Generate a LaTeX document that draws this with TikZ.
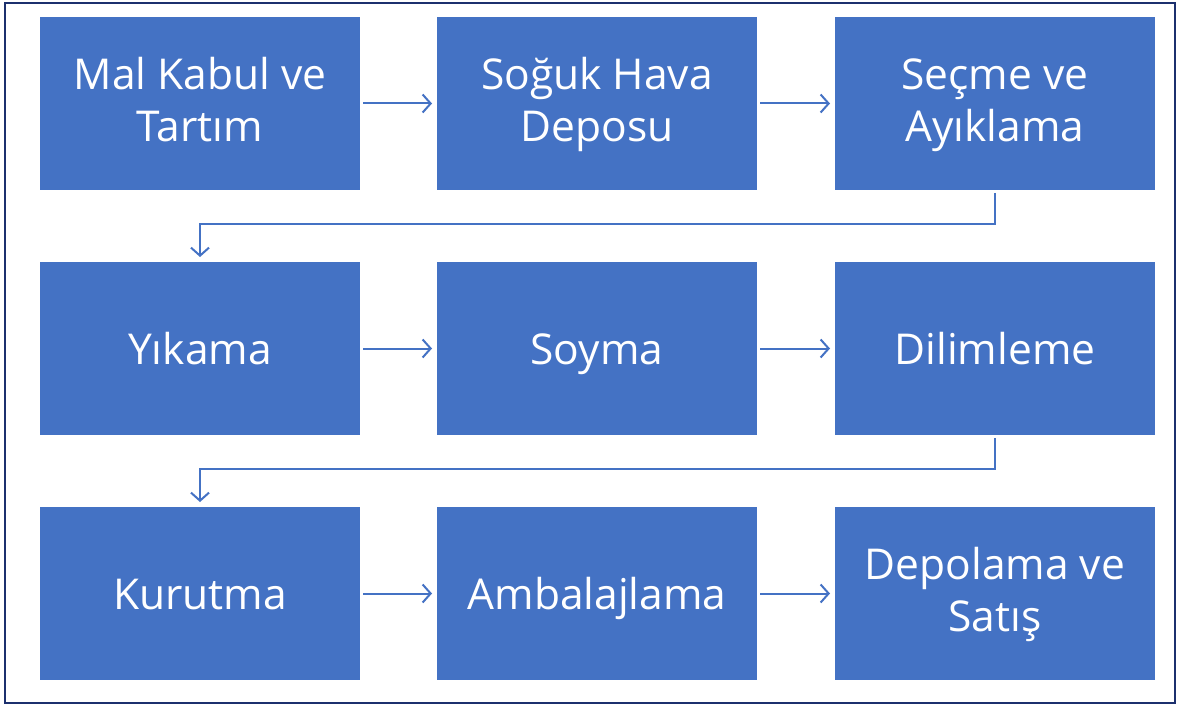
\documentclass[tikz,border=0pt]{standalone}
\usepackage{fontspec}
\setmainfont{Open Sans}
\usetikzlibrary{positioning,arrows.meta}
\definecolor{boxblue}{RGB}{68,114,196}
\definecolor{framenavy}{RGB}{28,48,110}
\newcommand{\twolines}[2]{\begin{tabular}{@{}c@{}}\rule{0pt}{40.4pt}#1\\#2\end{tabular}}
\begin{document}
\begin{tikzpicture}[x=1pt, y=-1pt,
        stepbox/.style={draw=none, fill=boxblue, text=white, minimum width=320pt, minimum height=173pt,
            inner sep=0pt, outer sep=0pt, align=center, font=\fontsize{42.5}{52}\selectfont,
            execute at begin node={\rule{0pt}{43pt}}, execute at end node={\rule[-12pt]{0pt}{12pt}}},
        twoline/.style={stepbox, execute at begin node={}, execute at end node={}},
        flow/.style={draw=boxblue, line width=2pt, -{Straight Barb[length=8pt, width=18pt, line width=2pt]},
            shorten <=3pt, shorten >=5pt}]
        \useasboundingbox (0,0) rectangle (1179,706);
        % Frame
        \draw[framenavy, line width=2pt] (5,3) rectangle (1175,703);

        % Row 1
        \node (mal) [twoline] at (200,103.5) {\twolines{Mal Kabul ve}{Tartım}};
        \node (soguk) [twoline, right=77pt of mal] {\twolines{Soğuk Hava}{Deposu}};
        \node (secme) [twoline, right=78pt of soguk] {\twolines{Seçme ve}{Ayıklama}};

        % Row 2
        \node (yikama) [stepbox, below=72pt of mal] {Yıkama};
        \node (soyma) [stepbox, right=77pt of yikama] {Soyma};
        \node (dilim) [stepbox, right=78pt of soyma] {Dilimleme};

        % Row 3
        \node (kurutma) [stepbox, below=72pt of yikama] {Kurutma};
        \node (ambalaj) [stepbox, right=77pt of kurutma] {Ambalajlama};
        \node (satis) [twoline, right=78pt of ambalaj] {\twolines{Depolama ve}{Satış}};

        % Arrows
        \draw[flow] (mal) -- (soguk);
        \draw[flow] (soguk) -- (secme);
        \draw[flow] (secme.south) -- ++(0pt,-34pt) -| (yikama.north);
        \draw[flow] (yikama) -- (soyma);
        \draw[flow] (soyma) -- (dilim);
        \draw[flow] (dilim.south) -- ++(0pt,-34pt) -| (kurutma.north);
        \draw[flow] (kurutma) -- (ambalaj);
        \draw[flow] (ambalaj) -- (satis);
    \end{tikzpicture}
\end{document}
